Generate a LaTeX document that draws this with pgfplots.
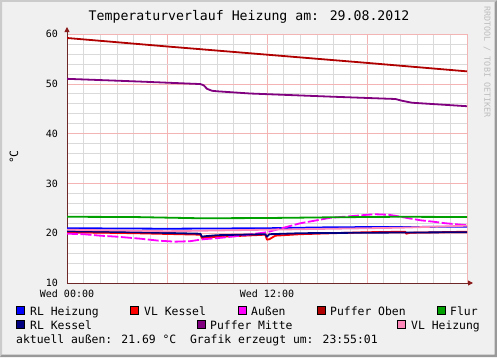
\documentclass[border=0pt]{standalone}
\usepackage{fontspec}
\usepackage{pgfplots}
\usepackage{pgfplotstable}
\pgfplotsset{compat=1.18}
\usetikzlibrary{arrows.meta}
\newfontfamily\dvm{DejaVu Sans Mono}
\newcommand\lgfont{\dvm\fontsize{11.4}{13}\selectfont}
\newcommand\tkfont{\dvm\fontsize{10}{12}\selectfont}
\newcommand\ttlfont{\dvm\fontsize{13.2}{15}\selectfont}
\definecolor{bgc}{HTML}{F0F0F0}
\definecolor{shA}{HTML}{CBCBCB}
\definecolor{shB}{HTML}{999999}
\definecolor{gridc}{HTML}{DADADA}
\definecolor{mgridc}{HTML}{F5B4B4}
\definecolor{axc}{HTML}{6E2828}
\definecolor{arrc}{HTML}{8B1A1A}
\definecolor{cRLH}{HTML}{0000FF}
\definecolor{cVLK}{HTML}{FF0000}
\definecolor{cAus}{HTML}{FF00FF}
\definecolor{cPO}{HTML}{B00000}
\definecolor{cFlur}{HTML}{00A000}
\definecolor{cRLK}{HTML}{000080}
\definecolor{cPM}{HTML}{800080}
\definecolor{cVLH}{HTML}{FF88BB}

\pgfplotstableread{
h v
0 59.2
6 57.5
12 55.85
18 54.2
24 52.5
}\PufferOben
\pgfplotstableread{
h v
0 51.0
4 50.5
8.0 49.95
8.2 49.7
8.4 49.0
8.7 48.6
9 48.5
11 48.05
16 47.4
19.7 46.95
20.1 46.6
20.7 46.2
24 45.5
}\PufferMitte
\pgfplotstableread{
h v
0 23.3
4 23.25
8 23.0
12 23.05
16 23.2
20 23.3
24 23.25
}\Flur
\pgfplotstableread{
h v
0 21.0
6 20.9
12 21.0
16 21.2
24 21.3
}\RLHeizung
\pgfplotstableread{
h v
0 20.7
6 20.4
12 20.7
16 20.9
20 21.1
24 21.5
}\VLHeizung
\pgfplotstableread{
h v
0 20.4
4 20.2
8.0 19.9
8.1 19.3
8.3 19.4
9 19.6
11.9 19.8
12.0 19.3
12.15 19.8
14 20.0
18 20.1
24 20.2
}\RLKessel
\pgfplotstableread{
h v
0 20.2
4 20.0
8.0 19.7
8.1 19.0
8.4 19.2
10 19.4
11.9 19.7
12.0 18.7
12.15 18.8
12.5 19.5
14 19.8
18 20.2
20.3 20.3
20.35 19.9
20.6 20.1
24 20.3
}\VLKessel
\pgfplotstableread{
h v
0 19.9
1 19.8
2 19.5
3 19.3
4.4 18.9
5.5 18.5
6.5 18.3
7.4 18.4
8.2 18.8
9 19.0
10.4 19.5
12 20.2
13 21.1
14 22.0
15 22.6
15.8 23.1
17 23.4
18 23.7
18.5 23.8
19.3 23.7
19.7 23.5
20.5 23.0
21.2 22.6
22 22.3
22.7 22.0
24 21.6
}\Aussen

\begin{document}
\begin{tikzpicture}[x=1pt,y=1pt]
\fill[bgc] (0,0) rectangle (497,357);
\fill[shA] (0,0) -- (0,357) -- (497,357) -- (495,355) -- (2,355) -- (2,2) -- cycle;
\fill[shB] (0,0) -- (497,0) -- (497,357) -- (494.5,354.5) -- (494.5,2.5) -- (2,2.5) -- cycle;
\begin{axis}[
  at={(67pt,74pt)}, anchor=south west,
  scale only axis, width=400pt, height=249pt,
  xmin=0, xmax=24, ymin=10, ymax=60,
  axis background/.style={fill=white},
  axis x line=bottom, axis y line=left,
  x axis line style={draw=axc, line width=0.9pt, -{Triangle[length=5pt,width=5pt,color=arrc]}, shorten >=-6pt},
  y axis line style={draw=axc, line width=0.9pt, -{Triangle[length=5pt,width=5pt,color=arrc]}, shorten >=-7pt},
  xtick={0,6,12,18,24}, xticklabels={Wed 00:00,,Wed 12:00,,},
  minor x tick num=5,
  ytick={10,20,30,40,50,60}, minor y tick num=4,
  grid=both,
  major grid style={draw=mgridc, line width=0.6pt},
  minor grid style={draw=gridc, line width=0.6pt},
  major tick length=0pt, minor tick length=0pt,
  tick label style={font=\tkfont},
  /pgf/number format/assume math mode=true,
  yticklabel style={anchor=east, inner sep=0pt, xshift=-9pt},
  xticklabel style={anchor=north, inner sep=0pt, yshift=-7pt},
  clip=true,
  every axis plot/.append style={line width=1.8pt, no marks, line join=round},
]
\addplot[cRLH] table[x=h,y=v] {\RLHeizung};
\addplot[cVLK] table[x=h,y=v] {\VLKessel};
\addplot[cAus, dash pattern=on 11pt off 2.5pt] table[x=h,y=v] {\Aussen};
\addplot[cPO] table[x=h,y=v] {\PufferOben};
\addplot[cFlur] table[x=h,y=v] {\Flur};
\addplot[cRLK] table[x=h,y=v] {\RLKessel};
\addplot[cPM] table[x=h,y=v] {\PufferMitte};
\addplot[cVLH] table[x=h,y=v] {\VLHeizung};
\end{axis}
% title and side texts
\node[anchor=base, inner sep=0pt, font=\ttlfont] at (249,336) {Temperaturverlauf Heizung am: 29.08.2012};
\node[rotate=90, inner sep=0pt, font=\lgfont] at (14,200) {°C};
\node[rotate=-90, inner sep=0pt, font=\dvm\fontsize{8.4}{10}\selectfont, text={rgb,255:red,190;green,190;blue,190}] at (487,295) {RRDTOOL / TOBI OETIKER};
% legend
\tikzset{sw/.style={draw=black, line width=0.6pt}}
\filldraw[sw, fill=cRLH] (16.5,42.5) rectangle (24.5,50.5);
\node[anchor=base west, inner sep=0pt, font=\lgfont] at (30,42) {RL Heizung};
\filldraw[sw, fill=cVLK] (130.5,42.5) rectangle (138.5,50.5);
\node[anchor=base west, inner sep=0pt, font=\lgfont] at (144,42) {VL Kessel};
\filldraw[sw, fill=cAus] (238.5,42.5) rectangle (246.5,50.5);
\node[anchor=base west, inner sep=0pt, font=\lgfont] at (251,42) {Außen};
\filldraw[sw, fill=cPO] (317.5,42.5) rectangle (325.5,50.5);
\node[anchor=base west, inner sep=0pt, font=\lgfont] at (330,42) {Puffer Oben};
\filldraw[sw, fill=cFlur] (437.5,42.5) rectangle (445.5,50.5);
\node[anchor=base west, inner sep=0pt, font=\lgfont] at (450,42) {Flur};
\filldraw[sw, fill=cRLK] (16.5,28.5) rectangle (24.5,36.5);
\node[anchor=base west, inner sep=0pt, font=\lgfont] at (30,28) {RL Kessel};
\filldraw[sw, fill=cPM] (197.5,28.5) rectangle (205.5,36.5);
\node[anchor=base west, inner sep=0pt, font=\lgfont] at (210,28) {Puffer Mitte};
\filldraw[sw, fill=cVLH] (397.5,28.5) rectangle (405.5,36.5);
\node[anchor=base west, inner sep=0pt, font=\lgfont] at (411,28) {VL Heizung};
\node[anchor=base west, inner sep=0pt, font=\lgfont] at (16,14) {aktuell außen: 21.69 °C\ \ Grafik erzeugt um: 23:55:01};
\end{tikzpicture}
\end{document}
